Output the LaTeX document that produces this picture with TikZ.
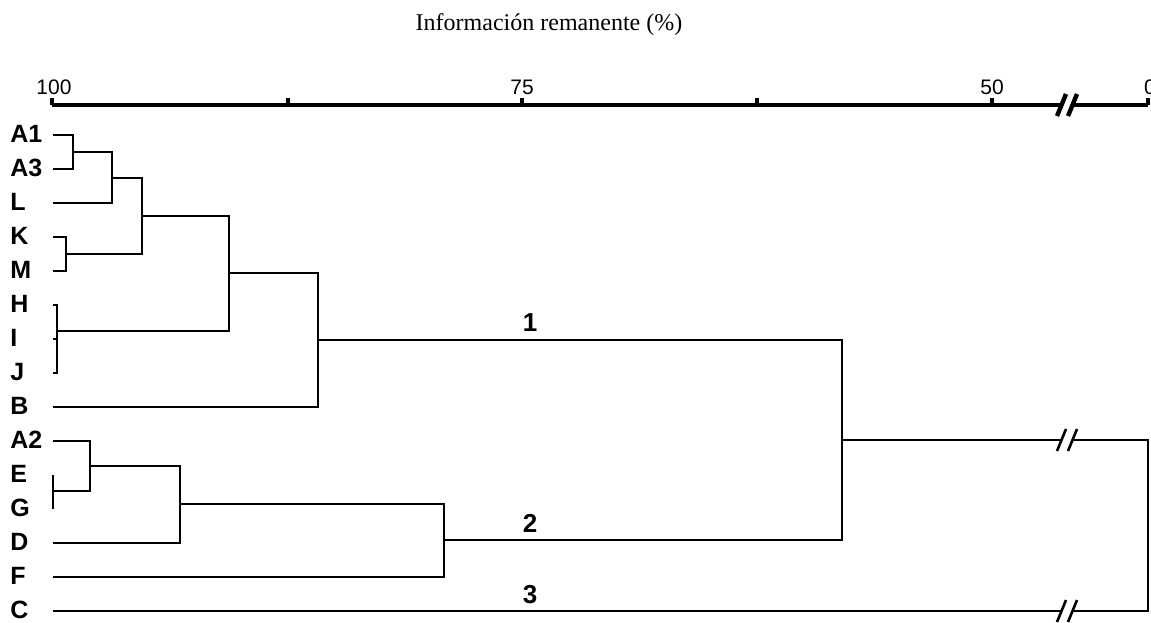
\documentclass[tikz,border=0pt]{standalone}
\usepackage{fontspec}
\setmainfont{Liberation Serif}
\newfontfamily\arialfont{Liberation Sans}
\usetikzlibrary{calc}
\tikzset{
  leaf/.style={anchor=west,inner sep=0pt,font=\arialfont\bfseries\fontsize{12.5}{14}\selectfont},
  grp/.style={anchor=south,inner sep=0pt,font=\arialfont\bfseries\fontsize{13}{15}\selectfont},
  ticklab/.style={anchor=south,inner sep=0pt,font=\arialfont\fontsize{10.5}{12}\selectfont},
  titlelab/.style={inner sep=0pt,font=\fontsize{12}{14}\selectfont},
  branch/.style={line width=1.3pt},
  axisline/.style={line width=2.2pt},
  brk/.pic={\fill[white] (-5,-9) rectangle (5,9);
    \draw (-10,11) -- (-1,-11);
    \draw (1,11) -- (10,-11);}
}

\begin{document}
\begin{tikzpicture}[line join=miter,x=0.5pt,y=-0.5pt]
\useasboundingbox (0,0) rectangle (1151,622);
\node[titlelab] (ttl) at (549,25) {Información remanente (\%)};

\coordinate (ax0) at (52,105);
\coordinate (ax1) at (1148,105);
\draw[axisline] (ax0) -- (ax1);
\foreach \t in {52,288,522,757,992,1148}
  \draw[axisline] (\t,105) -- (\t,98);
\node[ticklab] (t100) at (54,95) {100};
\node[ticklab] (t75) at (522,95) {75};
\node[ticklab] (t50) at (992,95) {50};
\node[ticklab] (t0) at (1150,95) {0};
\pic[axisline] at (1067,105) {brk};

\foreach \n [count=\i from 0] in {A1,A3,L,K,M,H,I,J,B,A2,E,G,D,F,C}{
  \node[leaf] (l\n) at (10,134+34*\i) {\n};
  \coordinate (p\n) at (53,135+34*\i);
}

\coordinate (jA) at (73,152);
\coordinate (jB) at (112,178);
\coordinate (jC) at (66,254);
\coordinate (jD) at (142,216);
\coordinate (jE) at (57,331);
\coordinate (jF) at (229,273);
\coordinate (jG) at (318,340);
\coordinate (jH) at (53,491);
\coordinate (jI) at (90,466);
\coordinate (jJ) at (180,504);
\coordinate (jK) at (444,540);
\coordinate (jL) at (842,440);
\coordinate (jR) at (1148,525);

\foreach \u/\j/\l in {pA1/jA/pA3, jA/jB/pL, pK/jC/pM, jB/jD/jC, pH/jE/pJ,
  jD/jF/jE, jF/jG/pB, pA2/jI/jH, jI/jJ/pD, jJ/jK/pF, jG/jL/jK, jL/jR/pC}
  \draw[branch] (\u) -| (\j) |- (\l);
\draw[branch] (pI) -- (pI -| jE);
\draw[branch] (pE) -- (pG);

\pic[branch] at (1067,440) {brk};
\pic[branch] at (1067,611) {brk};

\node[grp] (g1) at (530,332) {1};
\node[grp] (g2) at (530,533) {2};
\node[grp] (g3) at (530,604) {3};
\end{tikzpicture}
\end{document}
